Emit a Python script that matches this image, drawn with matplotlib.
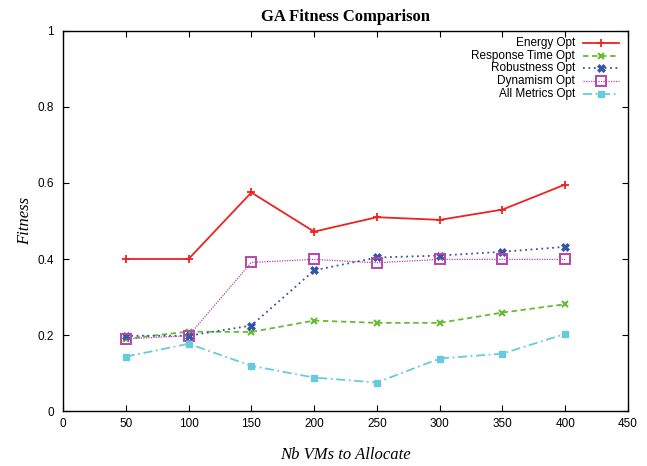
"""
GA fitness comparison across allocation sizes
"""

import matplotlib.pyplot as plt

#---------------------------------------------------------------------------------------------------
# Data
#---------------------------------------------------------------------------------------------------

nb_vms = [50, 100, 150, 200, 250, 300, 350, 400]

energy_opt = [0.40, 0.40, 0.575, 0.472, 0.510, 0.503, 0.530, 0.596]
response_opt = [0.190, 0.209, 0.208, 0.238, 0.232, 0.232, 0.259, 0.281]
robust_opt = [0.198, 0.198, 0.225, 0.370, 0.404, 0.409, 0.419, 0.432]
dynamism_opt = [0.190, 0.198, 0.391, 0.399, 0.390, 0.399, 0.399, 0.399]
all_opt = [0.143, 0.177, 0.119, 0.088, 0.075, 0.138, 0.151, 0.203]

xticks = [0, 50, 100, 150, 200, 250, 300, 350, 400, 450]
yticks = [0, 0.2, 0.4, 0.6, 0.8, 1]
ytick_labels = ['0', '0.2', '0.4', '0.6', '0.8', '1']

series = [('Energy Opt', energy_opt,
           dict(color='#ee2222', linestyle='-', marker='+', ms=6, mew=1.3)),
          ('Response Time Opt', response_opt,
           dict(color='#66bb33', linestyle=(0, (3, 2)), marker='x', ms=5, mew=1.5)),
          ('Robustness Opt', robust_opt,
           dict(color='#3355aa', linestyle=(0, (1, 2)), marker='X', ms=6, mew=0.5)),
          ('Dynamism Opt', dynamism_opt,
           dict(color='#bb44aa', linestyle=(0, (1, 1)), marker='s', ms=6.5, mew=1.4,
                mfc='none', lw=0.9)),
          ('All Metrics Opt', all_opt,
           dict(color='#66ccdd', linestyle=(0, (5, 2, 1, 2)), marker='s', ms=5))]

#---------------------------------------------------------------------------------------------------
# Plot
#---------------------------------------------------------------------------------------------------

sans = 'Liberation Sans'
serif = 'Liberation Serif'

fig = plt.figure(figsize=(6.47, 4.66), dpi=100)
ax = fig.add_axes([0.0974, 0.118, 0.8732, 0.8155])

for name, vals, kw in series:
    kw = dict(kw)
    kw.setdefault('lw', 1.3)
    ax.plot(nb_vms, vals, **kw)

# gnuplot-style legend: right-aligned text, sample to the right
ytop = 0.968
dy = 0.0332
for i, (name, vals, kw) in enumerate(series):
    kw = dict(kw)
    kw.setdefault('lw', 1.3)
    y = ytop - i * dy
    ax.text(0.906, y, name, transform=ax.transAxes, ha='right', va='center',
            family=sans, fontsize=8.5)
    ax.plot([0.920, 0.984], [y, y], transform=ax.transAxes, clip_on=False,
            **{k: v for k, v in kw.items() if k not in ('marker', 'ms', 'mew', 'mfc')})
    ax.plot([0.952], [y], transform=ax.transAxes, clip_on=False, linestyle='none',
            **{k: v for k, v in kw.items() if k in ('color', 'marker', 'ms', 'mew', 'mfc')})

ax.set_xlim(0, 450)
ax.set_ylim(0, 1)
ax.set_xticks(xticks)
ax.set_yticks(yticks, ytick_labels)
ax.tick_params(direction='in', length=4, width=0.8, top=True, right=True,
               labelsize=8.5, pad=5)
ax.tick_params(axis='y', pad=6.5)
for lab in ax.get_xticklabels() + ax.get_yticklabels():
    lab.set_family(sans)
for sp in ax.spines.values():
    sp.set_linewidth(1.0)

ax.set_title('GA Fitness Comparison', family=serif, fontweight='bold', fontsize=12, pad=7)
ax.set_xlabel('Nb VMs to Allocate', family=serif, style='italic', fontsize=12, labelpad=12)
ax.set_ylabel('Fitness', family=serif, style='italic', fontsize=12, labelpad=3)

plt.savefig('out.png', dpi=100)
